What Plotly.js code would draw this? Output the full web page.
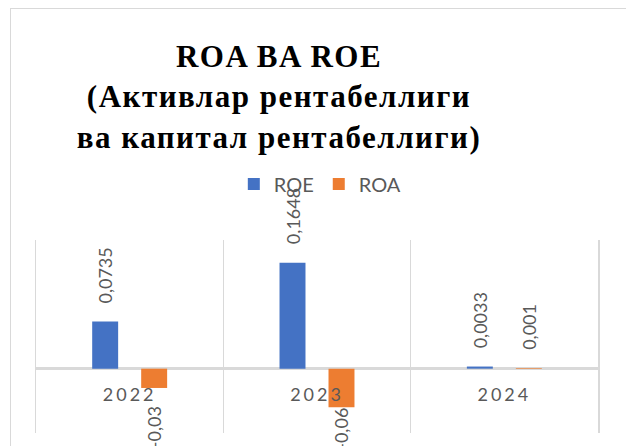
<!DOCTYPE html>
<html><head><meta charset="utf-8">
<script src="https://cdn.plot.ly/plotly-3.0.1.min.js"></script>
<style>
html,body{margin:0;padding:0;background:#fff;overflow:hidden}
#wrap{position:relative;width:626px;height:446px}
#chart{width:626px;height:446px}
#frame{position:absolute;left:10px;top:8px;width:700px;height:500px;border:1.5px solid #d9d9d9;pointer-events:none}
.gtitle{letter-spacing:1.5px}
.xtick text{letter-spacing:3px}
</style></head><body>
<div id="wrap"><div id="chart"></div><div id="frame"></div></div>
<script>
const years = ['2022', '2023', '2024'];
const roe = [0.0735, 0.1648, 0.0033];
const roa = [-0.03, -0.06, 0.001];
const roeLabels = ['0,0735', '0,1648', '0,0033'];
const roaLabels = ['-0,03', '-0,06', '0,001'];
const seriesNames = ['ROE', 'ROA'];
const titleLines = ['ROA BA ROE', '(Активлар рентабеллиги', 'ва капитал рентабеллиги)'];

const W = 626, H = 446;
const M = {l: 36, r: 28, t: 240, b: 13};
const yRange = [-0.1, 0.2];
const plotH = H - M.t - M.b;
const GAP = 17;
const BOTTOM_LIMIT = 452;
const OFFSET = 24.5;

function yPx(v) { return M.t + (yRange[1] - v) / (yRange[1] - yRange[0]) * plotH; }

const labelFont = {family: 'Lato, sans-serif', size: 18, color: '#595959'};
const annotations = [];
function addLabels(vals, labels, dx) {
  vals.forEach((v, i) => {
    let g = GAP;
    if (v < 0) {
      const len = labels[i].length * 9;
      if (yPx(v) + GAP + len > BOTTOM_LIMIT) g = 0;
    }
    annotations.push({
      x: i, y: v, xref: 'x', yref: 'y',
      text: labels[i], textangle: -90, showarrow: false,
      xshift: dx, yshift: v >= 0 ? g : -g,
      xanchor: 'center', yanchor: v >= 0 ? 'bottom' : 'top',
      font: labelFont, borderpad: 0
    });
  });
}
addLabels(roe, roeLabels, -OFFSET);
addLabels(roa, roaLabels, OFFSET);

const traces = [
  {type: 'bar', name: seriesNames[0], x: years, y: roe, marker: {color: '#4472C4'}, hoverinfo: 'none'},
  {type: 'bar', name: seriesNames[1], x: years, y: roa, marker: {color: '#ED7D31'}, hoverinfo: 'none'}
];

const layout = {
  width: W, height: H,
  margin: M,
  paper_bgcolor: '#fff', plot_bgcolor: '#fff',
  barmode: 'group', bargap: 0.477, bargroupgap: 0.47,
  title: {
    text: titleLines.map(s => '<b>' + s + '</b>').join('<br>'),
    font: {family: 'Liberation Serif, Times New Roman, serif', size: 31, color: '#000'},
    x: 0.4457, xref: 'container', xanchor: 'center',
    y: 0.85, yref: 'container', yanchor: 'top'
  },
  showlegend: true,
  legend: {
    orientation: 'h', x: 0.505, xanchor: 'center', y: 1.29, yanchor: 'middle',
    font: {family: 'Lato, sans-serif', size: 20, color: '#595959'},
    itemwidth: 30, traceorder: 'normal', bgcolor: 'rgba(0,0,0,0)'
  },
  xaxis: {
    type: 'category', tickson: 'boundaries', range: [-0.5, years.length - 0.5],
    showgrid: true, gridcolor: '#d9d9d9', gridwidth: 1.5,
    anchor: 'free', position: (0 - yRange[0]) / (yRange[1] - yRange[0]),
    ticks: '', showline: false, zeroline: false, tickangle: 0,
    tickfont: {family: 'Lato, sans-serif', size: 18, color: '#595959'},
    ticklabelstandoff: 13, fixedrange: true
  },
  yaxis: {
    range: yRange, showgrid: false, zeroline: true,
    zerolinecolor: '#d9d9d9', zerolinewidth: 2.5,
    showticklabels: false, ticks: '', showline: true, mirror: true,
    linecolor: '#d9d9d9', linewidth: 1.5, fixedrange: true
  },
  annotations: annotations
};

Plotly.newPlot('chart', traces, layout, {displayModeBar: false, staticPlot: true});
</script>
</body></html>
